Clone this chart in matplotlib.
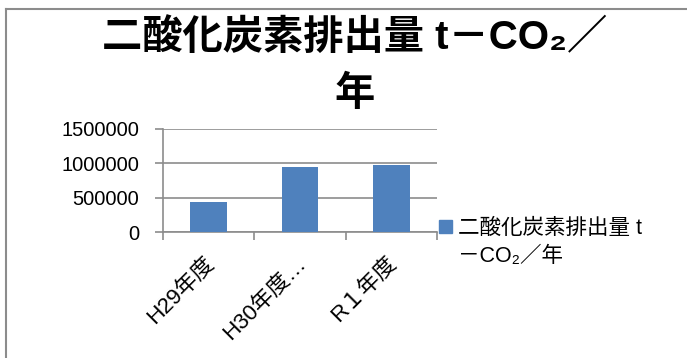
import matplotlib
matplotlib.use("Agg")
import matplotlib.pyplot as plt
from matplotlib.patches import Rectangle
from matplotlib.lines import Line2D
from matplotlib.transforms import ScaledTranslation

plt.rcParams['font.family'] = ['Liberation Sans', 'Noto Sans CJK JP', 'DejaVu Sans']

categories = ["H29年度", "H30年度…", "R１年度"]
values = [437000, 947000, 980000]
yticks = [0, 500000, 1000000, 1500000]
title_line1 = "二酸化炭素排出量 t－CO₂／"
title_line2 = "年"
legend_line1 = "二酸化炭素排出量 t"
legend_line2 = "－CO₂／年"

bar_color = "#4F81BD"
grid_color = "#8C8C8C"

fig = plt.figure(figsize=(6.87, 3.58), dpi=100)
W, H = 687, 358

# chart border (left and top)
fig.add_artist(Line2D([6 / W, 6 / W], [0, 1 - 9 / H], color="#8C8C8C", lw=1.5, transform=fig.transFigure))
fig.add_artist(Line2D([6 / W, 1], [1 - 9 / H, 1 - 9 / H], color="#8C8C8C", lw=1.5, transform=fig.transFigure))

ax = fig.add_axes([163 / W, 1 - 232 / H, (437 - 163) / W, (232 - 129) / H])
x = list(range(len(categories)))
ax.bar(x, values, width=0.4, color=bar_color, zorder=3)
ax.set_xlim(-0.5, len(categories) - 0.5)
ax.set_ylim(0, 1500000)
ax.set_yticks(yticks)
ax.set_yticklabels([str(v) for v in yticks], fontsize=14.5)
ax.yaxis.grid(True, color=grid_color, lw=1.2, zorder=0)
ax.tick_params(axis='y', length=6, color=grid_color, width=1.2, pad=11)
ax.set_xticks(x)
ax.set_xticklabels(categories, rotation=45, ha='right', rotation_mode='anchor', fontsize=16)
ax.set_xticks([-0.5, 0.5, 1.5, 2.5], minor=True)
ax.tick_params(axis='x', which='major', length=0, pad=10)
ax.tick_params(axis='x', which='minor', length=6, color=grid_color, width=1.2)
offset = ScaledTranslation(-5 / 100, -7 / 100, fig.dpi_scale_trans)
for lab in ax.get_xticklabels():
    lab.set_transform(lab.get_transform() + offset)
for s in ['top', 'right']:
    ax.spines[s].set_visible(False)
ax.spines['left'].set_color(grid_color)
ax.spines['bottom'].set_color(grid_color)
ax.spines['left'].set_linewidth(1.2)
ax.spines['bottom'].set_linewidth(1.2)

fig.text(355 / W, 1 - 38 / H, title_line1, ha='center', va='center', fontsize=29, fontweight='bold')
fig.text(355 / W, 1 - 94 / H, title_line2, ha='center', va='center', fontsize=29, fontweight='bold')

# legend
fig.add_artist(Rectangle((439 / W, 1 - 233 / H), 13 / W, 13 / H, color=bar_color, transform=fig.transFigure))
fig.text(458 / W, 1 - 228 / H, legend_line1, ha='left', va='center', fontsize=15.5)
fig.text(458 / W, 1 - 257 / H, legend_line2, ha='left', va='center', fontsize=15.5)

fig.savefig("out.png", dpi=100)
